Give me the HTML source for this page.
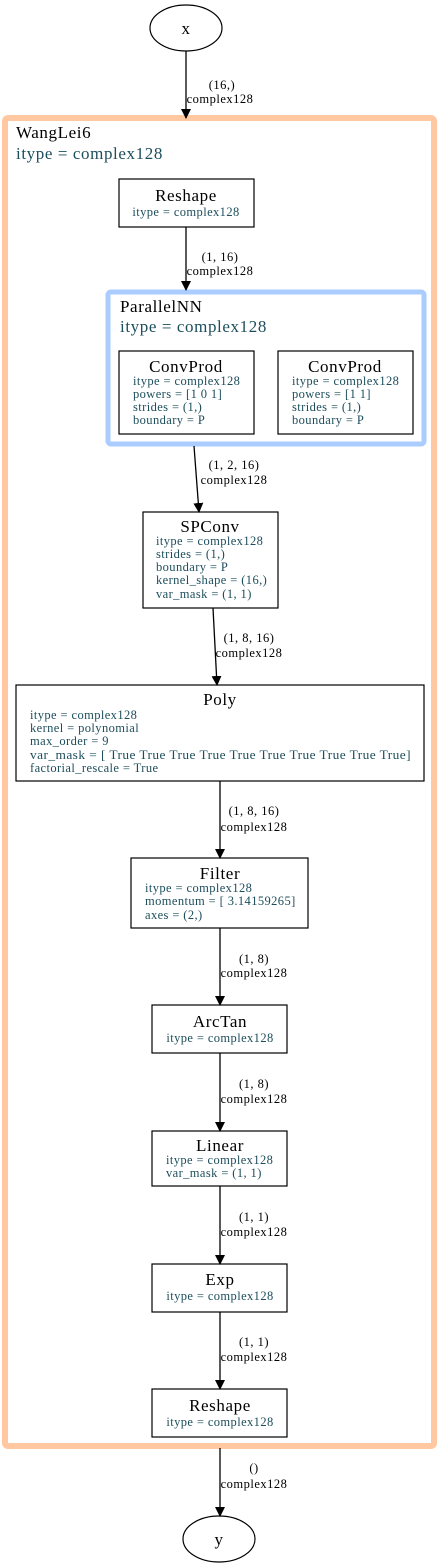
<!DOCTYPE html>
<html><head><meta charset="utf-8"><style>
html,body{margin:0;padding:0;background:#fff;}
svg{display:block;font-family:"Liberation Serif",serif;}
.t{font-size:17px;letter-spacing:0.6px;fill:#000;text-anchor:middle;}
.a{font-size:12.5px;letter-spacing:0.4px;fill:#1d4e5c;}
.e{font-size:12.5px;letter-spacing:0.5px;fill:#000;text-anchor:middle;}
.b{fill:#fff;stroke:#000;stroke-width:1.2;}
.l{stroke:#000;stroke-width:1.3;fill:none;}
.c{font-size:17px;letter-spacing:0.6px;}
</style></head><body>
<svg width="440" height="1568" viewBox="0 0 440 1568" xmlns="http://www.w3.org/2000/svg">
<defs><marker id="ar" markerWidth="10" markerHeight="10" refX="9" refY="5" orient="auto" markerUnits="userSpaceOnUse"><path d="M0,0 L10,5 L0,10 z" fill="#000"/></marker></defs>
<rect x="5" y="118" width="429" height="1328" rx="3" fill="#fff" stroke="#ffc8a0" stroke-width="6"/>
<text class="c" x="16" y="138">WangLei6</text>
<text class="c" x="16" y="159" style="fill:#1d4e5c">itype = complex128</text>
<rect x="108" y="292" width="316" height="152" rx="3" fill="#fff" stroke="#aaccff" stroke-width="5"/>
<text class="c" x="120" y="312">ParallelNN</text>
<text class="c" x="120" y="332" style="fill:#1d4e5c">itype = complex128</text>

<ellipse cx="186" cy="28" rx="36" ry="23" fill="#fff" stroke="#000" stroke-width="1.2"/>
<text class="t" x="186" y="34">x</text>
<ellipse cx="219" cy="1539" rx="36" ry="23" fill="#fff" stroke="#000" stroke-width="1.2"/>
<text class="t" x="219" y="1545">y</text>

<rect class="b" x="119" y="179" width="135" height="48"/>
<text class="t" x="186" y="201">Reshape</text>
<text class="a" x="186" y="216" text-anchor="middle">itype = complex128</text>

<rect class="b" x="119" y="351" width="135" height="83"/>
<text class="t" x="186" y="372">ConvProd</text>
<text class="a" x="133" y="385">itype = complex128</text>
<text class="a" x="133" y="398">powers = [1 0 1]</text>
<text class="a" x="133" y="411">strides = (1,)</text>
<text class="a" x="133" y="424">boundary = P</text>

<rect class="b" x="278" y="351" width="135" height="83"/>
<text class="t" x="345" y="372">ConvProd</text>
<text class="a" x="292" y="385">itype = complex128</text>
<text class="a" x="292" y="398">powers = [1 1]</text>
<text class="a" x="292" y="411">strides = (1,)</text>
<text class="a" x="292" y="424">boundary = P</text>

<rect class="b" x="143" y="512" width="135" height="96"/>
<text class="t" x="210" y="532">SPConv</text>
<text class="a" x="156" y="545">itype = complex128</text>
<text class="a" x="156" y="558">strides = (1,)</text>
<text class="a" x="156" y="571">boundary = P</text>
<text class="a" x="156" y="584">kernel_shape = (16,)</text>
<text class="a" x="156" y="598">var_mask = (1, 1)</text>

<rect class="b" x="16" y="685" width="408" height="96"/>
<text class="t" x="220" y="705">Poly</text>
<text class="a" x="30" y="719">itype = complex128</text>
<text class="a" x="30" y="732">kernel = polynomial</text>
<text class="a" x="30" y="745">max_order = 9</text>
<text class="a" x="30" y="759" textLength="381" lengthAdjust="spacingAndGlyphs">var_mask = [ True  True  True  True  True  True  True  True  True  True]</text>
<text class="a" x="30" y="772">factorial_rescale = True</text>

<rect class="b" x="131" y="858" width="177" height="70"/>
<text class="t" x="220" y="879">Filter</text>
<text class="a" x="145" y="892">itype = complex128</text>
<text class="a" x="145" y="905">momentum = [ 3.14159265]</text>
<text class="a" x="145" y="919">axes = (2,)</text>

<rect class="b" x="152" y="1005" width="135" height="48"/>
<text class="t" x="220" y="1027">ArcTan</text>
<text class="a" x="220" y="1042" text-anchor="middle">itype = complex128</text>

<rect class="b" x="152" y="1131" width="135" height="55"/>
<text class="t" x="220" y="1151">Linear</text>
<text class="a" x="166" y="1164">itype = complex128</text>
<text class="a" x="166" y="1177">var_mask = (1, 1)</text>

<rect class="b" x="152" y="1264" width="135" height="48"/>
<text class="t" x="220" y="1285">Exp</text>
<text class="a" x="220" y="1300" text-anchor="middle">itype = complex128</text>

<rect class="b" x="152" y="1389" width="135" height="48"/>
<text class="t" x="220" y="1411">Reshape</text>
<text class="a" x="220" y="1426" text-anchor="middle">itype = complex128</text>

<line class="l" x1="186" y1="51" x2="186" y2="118" marker-end="url(#ar)"/>
<text class="e" x="222" y="89">(16,)</text><text class="e" x="220" y="103">complex128</text>
<line class="l" x1="186" y1="227" x2="186" y2="290" marker-end="url(#ar)"/>
<text class="e" x="220" y="261">(1, 16)</text><text class="e" x="220" y="275">complex128</text>
<line class="l" x1="194" y1="446" x2="199" y2="512" marker-end="url(#ar)"/>
<text class="e" x="234" y="469">(1, 2, 16)</text><text class="e" x="234" y="484">complex128</text>
<line class="l" x1="213" y1="608" x2="217" y2="685" marker-end="url(#ar)"/>
<text class="e" x="249" y="642">(1, 8, 16)</text><text class="e" x="249" y="657">complex128</text>
<line class="l" x1="220" y1="781" x2="220" y2="858" marker-end="url(#ar)"/>
<text class="e" x="254" y="815">(1, 8, 16)</text><text class="e" x="254" y="831">complex128</text>
<line class="l" x1="220" y1="928" x2="220" y2="1005" marker-end="url(#ar)"/>
<text class="e" x="254" y="963">(1, 8)</text><text class="e" x="254" y="977">complex128</text>
<line class="l" x1="220" y1="1053" x2="220" y2="1131" marker-end="url(#ar)"/>
<text class="e" x="254" y="1088">(1, 8)</text><text class="e" x="254" y="1103">complex128</text>
<line class="l" x1="220" y1="1186" x2="220" y2="1264" marker-end="url(#ar)"/>
<text class="e" x="254" y="1221">(1, 1)</text><text class="e" x="254" y="1236">complex128</text>
<line class="l" x1="220" y1="1312" x2="220" y2="1389" marker-end="url(#ar)"/>
<text class="e" x="254" y="1346">(1, 1)</text><text class="e" x="254" y="1361">complex128</text>
<line class="l" x1="220" y1="1448" x2="220" y2="1516" marker-end="url(#ar)"/>
<text class="e" x="254" y="1472">()</text><text class="e" x="254" y="1488">complex128</text>
</svg>
</body></html>
